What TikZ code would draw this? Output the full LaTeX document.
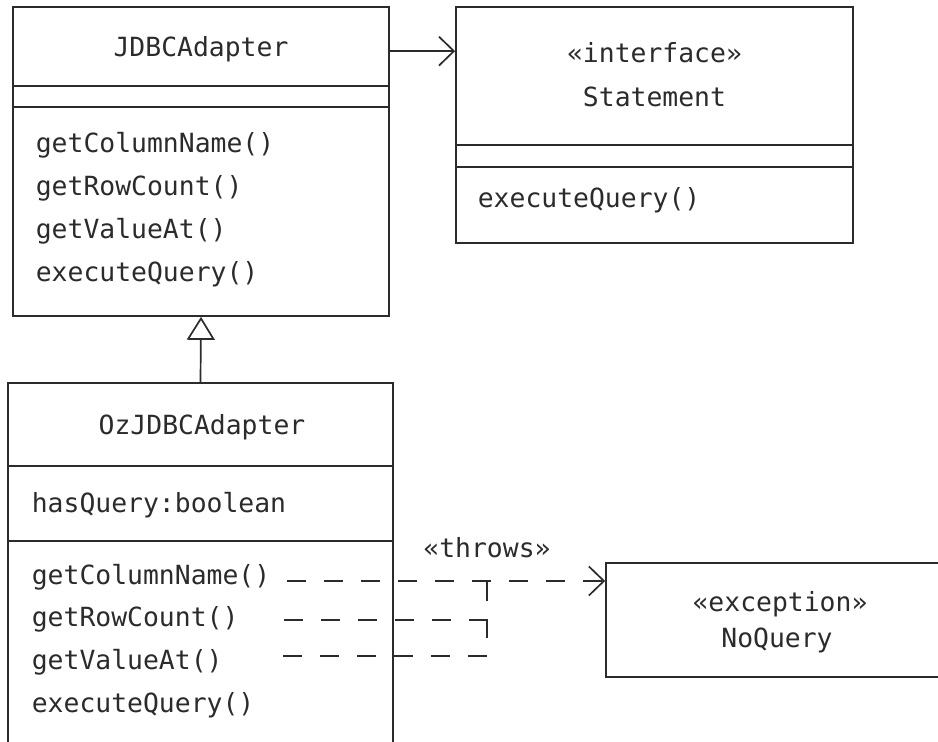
\documentclass[tikz,border=0pt]{standalone}
\usepackage{fontspec}
\setmonofont{DejaVu Sans Mono}
\usepackage{xcolor}
\usetikzlibrary{positioning, arrows.meta}
\definecolor{umlink}{HTML}{2B2B2B}

\begin{document}
\begin{tikzpicture}[x=0.5pt, y=-0.5pt, line width=0.85pt, color=umlink,
    every node/.style={font=\ttfamily\fontsize{13.2pt}{15pt}\selectfont},
    classbox/.style={draw, rectangle, inner sep=0pt},
    member/.style={anchor=base west, inner sep=0pt},
    title/.style={anchor=base, inner sep=0pt},
    assoc/.style={-{Straight Barb[length=7.5pt, width=14.5pt]}},
    inherit/.style={-{Triangle[open, length=11.5pt, width=14pt]}},
    throwsline/.style={dash pattern=on 9.5pt off 9pt}]
  \useasboundingbox (0,0) rectangle (938,742);

  % JDBCAdapter
  \node[classbox, minimum width=188pt, minimum height=154.5pt] (jdbc) at (201,161.5) {};
  \draw (jdbc.west |- 0,86) -- (jdbc.east |- 0,86);
  \draw (jdbc.west |- 0,107) -- (jdbc.east |- 0,107);
  \node[title] (jdbcname) at (201,57) {JDBCAdapter};
  \node[member] (jm1) at (35,153) {getColumnName()};
  \node[member] (jm2) at (35,196) {getRowCount()};
  \node[member] (jm3) at (35,239) {getValueAt()};
  \node[member] (jm4) at (35,282) {executeQuery()};

  % Statement
  \node[classbox, minimum width=198.5pt, minimum height=118pt] (stmt) at (654.5,125) {};
  \draw (stmt.west |- 0,145) -- (stmt.east |- 0,145);
  \draw (stmt.west |- 0,167) -- (stmt.east |- 0,167);
  \node[title] (stmtstereo) at (654.5,63) {«interface»};
  \node[title] (stmtname) at (654.5,107) {Statement};
  \node[member] (sm1) at (477,208) {executeQuery()};

  % OzJDBCAdapter
  \node[classbox, minimum width=192.5pt, minimum height=193.5pt] (oz) at (200.5,576.5) {};
  \draw (oz.west |- 0,466) -- (oz.east |- 0,466);
  \draw (oz.west |- 0,541) -- (oz.east |- 0,541);
  \node[title] (ozname) at (202,435) {OzJDBCAdapter};
  \node[member] (oza1) at (31,513) {hasQuery:boolean};
  \node[member] (ozm1) at (31,585) {getColumnName()};
  \node[member] (ozm2) at (31,627) {getRowCount()};
  \node[member] (ozm3) at (31,670) {getValueAt()};
  \node[member] (ozm4) at (31,713) {executeQuery()};

  % NoQuery
  \node[classbox, minimum width=177pt, minimum height=57pt] (noquery) at (783,620) {};
  \node[title] (nqstereo) at (780,612) {«exception»};
  \node[title] (nqname) at (777,648) {NoQuery};

  % connectors
  \draw[assoc] ([yshift=-22.5pt]jdbc.north east) -- ([yshift=-22.5pt]stmt.north west);
  \draw[inherit] (oz.north) -- (jdbc.south);

  \coordinate (t1) at (287,581);
  \coordinate (t2) at (284,620);
  \coordinate (t3) at (283,656);
  \coordinate (join) at (487,581);
  \draw[throwsline, assoc] (t1) -- (noquery.west |- t1);
  \draw[throwsline] (t2) -| (join);
  \draw[throwsline] (t3) -| (join);
  \node[title] (throws) at (487,558) {«throws»};
\end{tikzpicture}
\end{document}
